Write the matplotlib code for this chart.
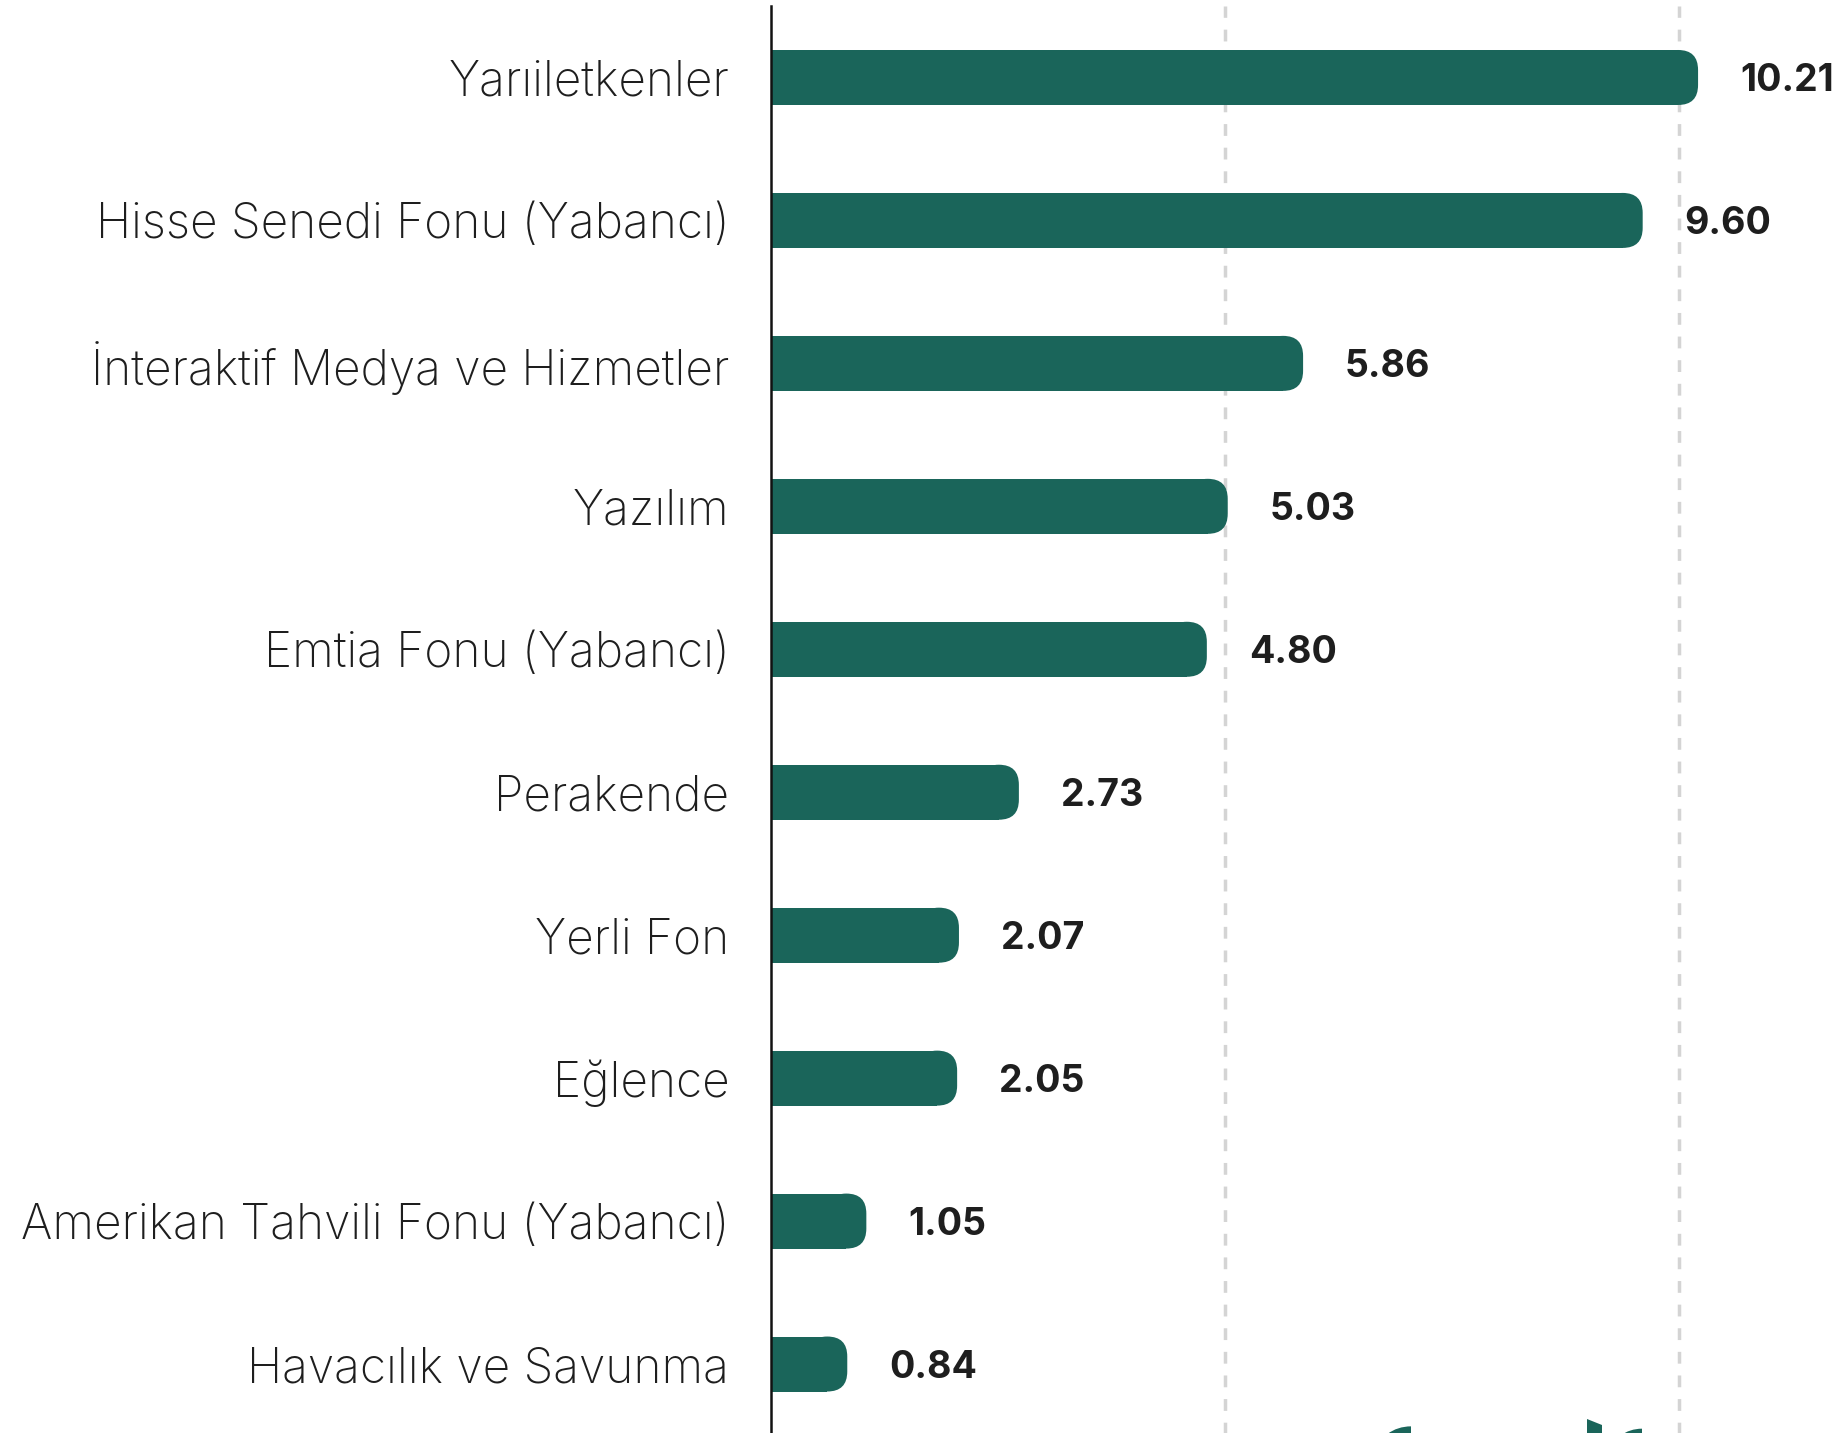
import matplotlib
matplotlib.use("Agg")
import matplotlib.pyplot as plt
from matplotlib.patches import FancyBboxPatch, Wedge, Polygon

categories = [
    "Yarıiletkenler",
    "Hisse Senedi Fonu (Yabancı)",
    "İnteraktif Medya ve Hizmetler",
    "Yazılım",
    "Emtia Fonu (Yabancı)",
    "Perakende",
    "Yerli Fon",
    "Eğlence",
    "Amerikan Tahvili Fonu (Yabancı)",
    "Havacılık ve Savunma",
]
values = [10.21, 9.60, 5.86, 5.03, 4.80, 2.73, 2.07, 2.05, 1.05, 0.84]
grid_ticks = [5, 10]

BAR = "#1a655a"
TXT = "#1e1e1e"

plt.rcParams['font.family'] = ['Inter', 'DejaVu Sans']

W, H = 1844, 1433
fig = plt.figure(figsize=(W / 100, H / 100), dpi=100)
ax = fig.add_axes([771 / W, -2.5 / H, (W - 771) / W, 1429.5 / H])

px_x = 90.8   # pixels per x unit
px_y = 142.95  # pixels per row
xmax = (W - 771) / px_x
ax.set_xlim(0, xmax)
ax.set_ylim(len(values) - 0.5, -0.5)

bar_h = 55 / px_y
r_px = 20
rx = r_px / px_x
ry = r_px / px_y

ypos = list(range(len(values)))
ax.barh(ypos, [v - rx for v in values], height=bar_h, color=BAR, linewidth=0, zorder=3)
for y, v in zip(ypos, values):
    p = FancyBboxPatch((v - 2 * rx, y - bar_h / 2), 2 * rx, bar_h,
                       boxstyle=f"round,pad=0,rounding_size={rx}",
                       mutation_aspect=ry / rx,
                       facecolor=BAR, edgecolor="none", zorder=3)
    ax.add_patch(p)
    ax.text(v + 42 / px_x, y, f"{v:.2f}", va="center_baseline", ha="left",
            fontsize=27, fontweight="bold", color=TXT, zorder=4)

for g in grid_ticks:
    ax.axvline(g, color="#d4d4d4", lw=2.5, linestyle=(0, (3.4, 3.4)), zorder=1)

ax.set_yticks(ypos)
ax.set_yticklabels(categories, fontsize=34.4, fontweight="light", color=TXT)
ax.tick_params(axis="y", length=0, pad=30)
ax.set_xticks([])
for s in ["top", "right", "bottom"]:
    ax.spines[s].set_visible(False)
ax.spines["left"].set_linewidth(1.8)
ax.spines["left"].set_color("#111111")
ax.spines["left"].set_zorder(5)

# logo fragment cut at the bottom edge
def fx(x):
    return x / W

def fy(y):
    return 1 - y / H

fig.patches.append(Wedge((fx(1411), fy(1452)), 33 / W, 90, 180,
                         transform=fig.transFigure, facecolor=BAR, edgecolor="none"))
fig.patches.append(Polygon([(fx(1587), fy(1419)), (fx(1602), fy(1425)),
                            (fx(1602), fy(1440)), (fx(1587), fy(1440))],
                           transform=fig.transFigure, facecolor=BAR, edgecolor="none"))
fig.patches.append(Wedge((fx(1642), fy(1452)), 30 / W, 90, 180,
                         transform=fig.transFigure, facecolor=BAR, edgecolor="none"))

fig.savefig("out.png", dpi=100)
